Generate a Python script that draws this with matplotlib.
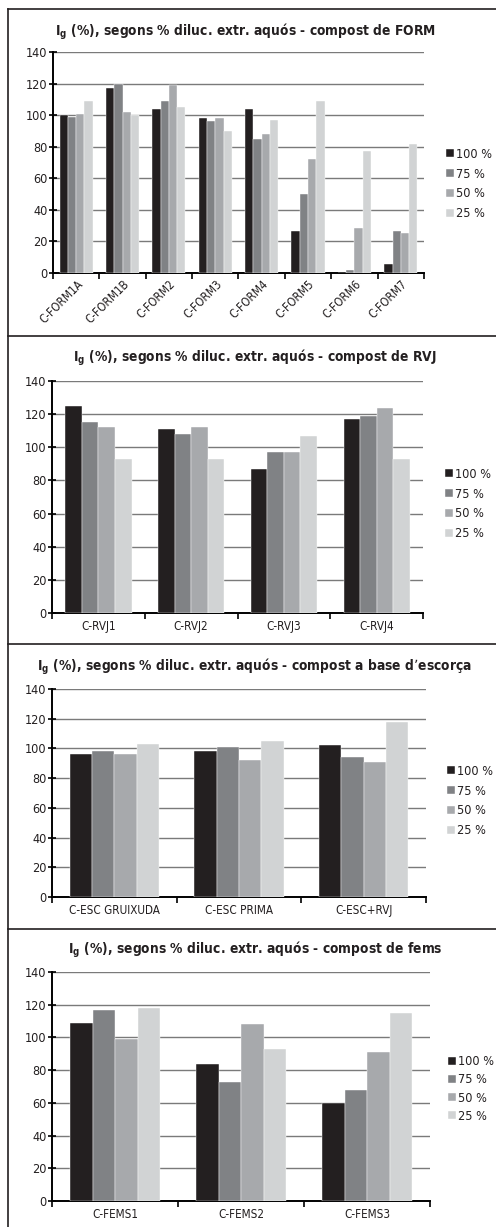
import numpy as np
import matplotlib
matplotlib.use('Agg')
import matplotlib.pyplot as plt
from matplotlib.lines import Line2D
from matplotlib import font_manager as fm

# pick the narrowest sans font that is installed
font = 'Liberation Sans'
stretch = 'normal'
k = 0.84
try:
    fm.findfont(fm.FontProperties(family='Liberation Sans Narrow'), fallback_to_default=False)
    font, k = 'Liberation Sans Narrow', 1.0
except Exception:
    p = fm.findfont(fm.FontProperties(family='DejaVu Sans', stretch='condensed'))
    if 'Condensed' in p:
        font, stretch = 'DejaVu Sans', 'condensed'

plt.rcParams['font.family'] = [font, 'DejaVu Sans']
plt.rcParams['font.stretch'] = stretch
plt.rcParams['mathtext.default'] = 'regular'

series = ['100 %', '75 %', '50 %', '25 %']
colors = ['#231f20', '#808285', '#a7a9ac', '#d1d3d4']

form_labels = ['C-FORM1A', 'C-FORM1B', 'C-FORM2', 'C-FORM3', 'C-FORM4',
               'C-FORM5', 'C-FORM6', 'C-FORM7']
form_100 = [100, 117, 104, 98, 104, 26.5, 0, 6]
form_75 = [99, 120, 109, 96, 85, 50, 2, 26.5]
form_50 = [101, 102, 119, 98, 88, 72, 28.5, 25.5]
form_25 = [109, 100, 105, 90, 97, 109, 77.5, 81.5]

rvj_labels = ['C-RVJ1', 'C-RVJ2', 'C-RVJ3', 'C-RVJ4']
rvj_100 = [125, 111, 87, 117]
rvj_75 = [115, 108, 97, 119]
rvj_50 = [112, 112, 97, 124]
rvj_25 = [93, 93, 107, 93]

esc_labels = ['C-ESC GRUIXUDA', 'C-ESC PRIMA', 'C-ESC+RVJ']
esc_100 = [96, 98, 102]
esc_75 = [98, 101, 94]
esc_50 = [96, 92, 91]
esc_25 = [103, 105, 118]

fems_labels = ['C-FEMS1', 'C-FEMS2', 'C-FEMS3']
fems_100 = [109, 84, 60]
fems_75 = [117, 73, 68]
fems_50 = [99, 108, 91]
fems_25 = [118, 93, 115]

W, H = 496, 1227
fig = plt.figure(figsize=(W / 100, H / 100), dpi=100)

tick_fs = 10 * k
ytick_fs = 10.8 * k
leg_fs = 10.8 * k
title_fs = 11.8 * k

panels = [
    (form_labels, [form_100, form_75, form_50, form_25], (53, 424, 52, 273),
     'de FORM', 245, 32, 184, 440, True, 0.55),
    (rvj_labels, [rvj_100, rvj_75, rvj_50, rvj_25], (52, 423, 381, 613),
     'de RVJ', 255, 358, 504, 439, False, 0.55),
    (esc_labels, [esc_100, esc_75, esc_50, esc_25], (52, 426, 689, 897),
     "a base d\u2019escor\u00e7a", 255, 667, 801, 441, False, 0.55),
    (fems_labels, [fems_100, fems_75, fems_50, fems_25], (52, 430, 972, 1201),
     'de fems', 255, 950, 1089, 442, False, 0.4),
]

for labels, data, (l, r, t, b), name, tx, ty, ly, lx, rot, lsp in panels:
    ax = fig.add_axes([l / W, 1 - b / H, (r - l) / W, (b - t) / H])
    n = len(labels)
    x = np.arange(n)
    width = 1 / (4 * 1.4)
    for i, (vals, c, s) in enumerate(zip(data, colors, series)):
        ax.bar(x + (i - 1.5) * width, vals, width, color=c, label=s,
               edgecolor='white', linewidth=0.3, zorder=3)
    ax.set_xlim(-0.5, n - 0.5)
    ax.set_ylim(0, 140)
    ax.set_yticks(np.arange(0, 141, 20))
    ax.yaxis.grid(True, color='#7a7a7a', lw=1.0, zorder=0)
    ax.set_axisbelow(True)
    for sp in ['top', 'right']:
        ax.spines[sp].set_visible(False)
    ax.spines['left'].set_linewidth(1.4)
    ax.spines['bottom'].set_linewidth(1.4)
    # ticks at category boundaries, labels at the category centres
    ax.set_xticks(np.arange(n + 1) - 0.5)
    ax.set_xticklabels([])
    ax.tick_params(axis='x', which='major', direction='out', length=4, width=1.2)
    ax.tick_params(axis='y', direction='inout', length=6, width=1.2,
                   labelsize=ytick_fs, pad=1, labelcolor='#231f20')
    ax.set_xticks(x, minor=True)
    ax.tick_params(axis='x', which='minor', length=0, labelsize=tick_fs,
                   labelcolor='#231f20', pad=5)
    if rot:
        ax.set_xticklabels(labels, minor=True, rotation=45, ha='right',
                           rotation_mode='anchor')
        ax.tick_params(axis='x', which='minor', pad=3)
    else:
        ax.set_xticklabels(labels, minor=True)
    fig.text(tx / W, 1 - ty / H,
             'I$_{g}$ (%), segons % diluc. extr. aqu\u00f3s - compost ' + name,
             ha='center', va='center', fontsize=title_fs, fontweight='bold',
             color='#231f20')
    ax.legend(loc='center left', bbox_to_anchor=(lx / W, 1 - ly / H),
              bbox_transform=fig.transFigure, frameon=False, fontsize=leg_fs,
              handlelength=0.65, handleheight=0.65, handletextpad=0.15,
              labelspacing=lsp, borderpad=0, labelcolor='#231f20')

# panel frame lines
for yy in [9, 336, 644, 929]:
    fig.add_artist(Line2D([8 / W, 1], [1 - yy / H, 1 - yy / H],
                          color='#231f20', lw=1.2))
fig.add_artist(Line2D([8 / W, 8 / W], [1 - 9 / H, 0], color='#231f20', lw=1.2))

fig.savefig('out.png', dpi=100)
